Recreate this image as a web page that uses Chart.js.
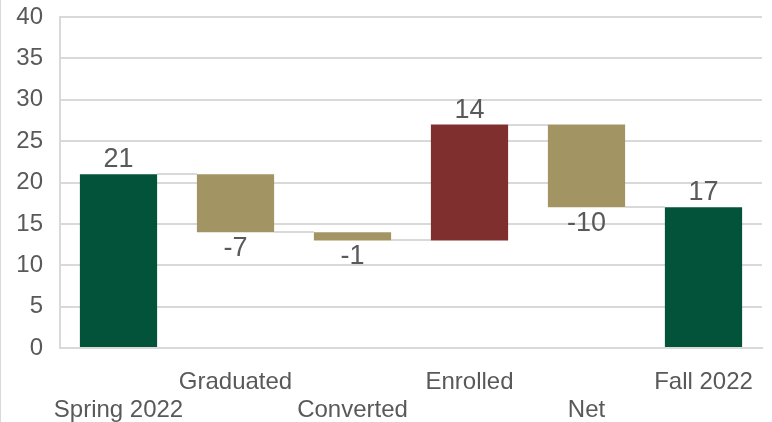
<!DOCTYPE html>
<html>
<head>
<meta charset="utf-8">
<script src="https://cdn.jsdelivr.net/npm/chart.js@4"></script>
<style>
  html, body { margin: 0; padding: 0; background: #fff; }
  #wrap { width: 771px; height: 422px; border-left: 1px solid #d9d9d9; position: relative; }
</style>
</head>
<body>
<div id="wrap"><canvas id="chart-wf" width="771" height="422"></canvas></div>
<script>
// ---- DATA ----
const categories = ['Spring 2022', 'Graduated', 'Converted', 'Enrolled', 'Net', 'Fall 2022'];
const changes    = [21, -7, -1, 14, -10, 17];
const isTotal    = [true, false, false, false, false, true];
const barColors  = ['#02533a', '#a39563', '#a39563', '#7f2f2e', '#a39563', '#02533a'];
const yTicks     = [0, 5, 10, 15, 20, 25, 30, 35, 40];

// ---- floating bars from running total ----
let running = 0;
const floatBars = changes.map((v, i) => {
  if (isTotal[i]) { running = v; return [0, v]; }
  const start = running;
  running += v;
  return [Math.min(start, running), Math.max(start, running)];
});
const levels = [];
running = 0;
changes.forEach((v, i) => { running = isTotal[i] ? v : running + v; levels.push(running); });

// staggered x labels (two rows)
const xLabels = categories.map((c, i) => i % 2 === 0 ? ['', c] : [c, '']);

const TEXT = '#595959';
const GRID = '#d9d9d9';
const FONT = 'Liberation Sans, Arial, sans-serif';

// connectors between bars
const connectorPlugin = {
  id: 'connectors',
  beforeDatasetsDraw(chart) {
    const meta = chart.getDatasetMeta(0);
    const y = chart.scales.y;
    const ctx = chart.ctx;
    ctx.save();
    ctx.strokeStyle = GRID;
    ctx.lineWidth = 2;
    for (let i = 0; i < meta.data.length - 1; i++) {
      const a = meta.data[i], b = meta.data[i + 1];
      const py = Math.round(y.getPixelForValue(levels[i]));
      ctx.beginPath();
      ctx.moveTo(a.x + a.width / 2, py);
      ctx.lineTo(b.x - b.width / 2, py);
      ctx.stroke();
    }
    ctx.restore();
  }
};

// value labels above/below bars
const valueLabelPlugin = {
  id: 'valueLabels',
  afterDatasetsDraw(chart) {
    const meta = chart.getDatasetMeta(0);
    const y = chart.scales.y;
    const ctx = chart.ctx;
    ctx.save();
    ctx.fillStyle = TEXT;
    ctx.font = '27px ' + FONT;
    ctx.textAlign = 'center';
    meta.data.forEach((bar, i) => {
      const [lo, hi] = floatBars[i];
      if (changes[i] >= 0) {
        ctx.textBaseline = 'bottom';
        ctx.fillText(String(changes[i]), bar.x, y.getPixelForValue(hi) - 1);
      } else {
        ctx.textBaseline = 'top';
        ctx.fillText(String(changes[i]), bar.x, y.getPixelForValue(lo) + 3);
      }
    });
    ctx.restore();
  }
};

new Chart(document.getElementById('chart-wf'), {
  type: 'bar',
  data: {
    labels: xLabels,
    datasets: [{
      data: floatBars,
      backgroundColor: barColors,
      borderWidth: 0,
      barPercentage: 0.66,
      categoryPercentage: 1,
    }]
  },
  options: {
    responsive: false,
    animation: false,
    layout: { padding: { top: 17, right: 10, left: 0, bottom: 0 } },
    plugins: { legend: { display: false }, tooltip: { enabled: false } },
    scales: {
      x: {
        grid: { display: false, drawTicks: false },
        border: { display: true, color: GRID, width: 2 },
        ticks: {
          color: TEXT, font: { family: FONT, size: 24, lineHeight: 1.17 },
          maxRotation: 0, autoSkip: false, padding: 20,
        },
        afterFit: s => { s.height = 74; s.paddingLeft = 0; s.paddingRight = 0; },
      },
      y: {
        min: 0, max: 40,
        afterBuildTicks: s => { s.ticks = yTicks.map(v => ({ value: v })); },
        grid: { color: GRID, lineWidth: 2, drawTicks: false },
        border: { display: true, color: GRID, width: 2 },
        ticks: { color: TEXT, font: { family: FONT, size: 24 }, padding: 17 },
        afterFit: s => { s.width = 59; s.paddingTop = 0; s.paddingBottom = 0; },
      }
    }
  },
  plugins: [connectorPlugin, valueLabelPlugin]
});
</script>
</body>
</html>
